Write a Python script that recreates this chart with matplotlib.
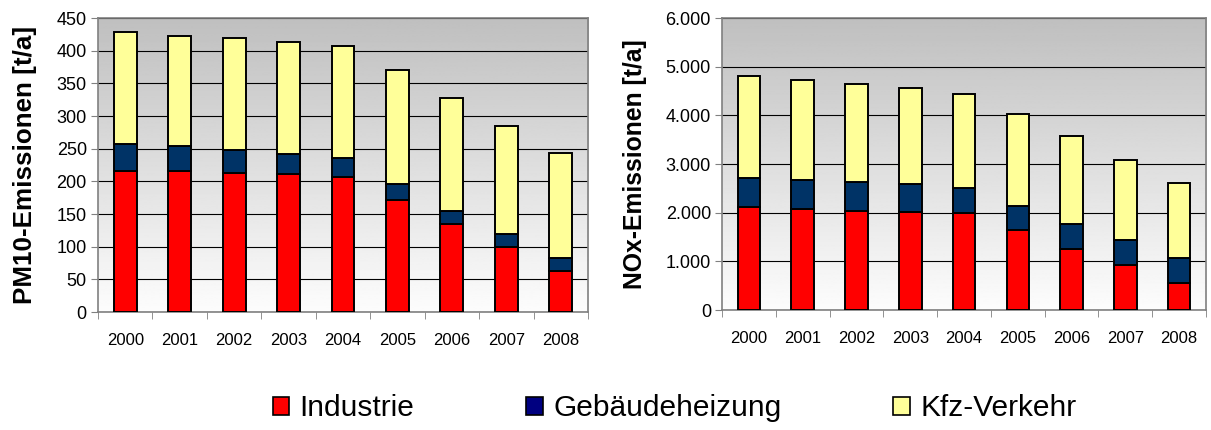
import numpy as np
import matplotlib.pyplot as plt
from matplotlib.ticker import FuncFormatter
from matplotlib.patches import Patch

plt.rcParams['font.family'] = ['Liberation Sans', 'DejaVu Sans']

jahre = ['2000', '2001', '2002', '2003', '2004', '2005', '2006', '2007', '2008']
quellen = ['Industrie', 'Gebäudeheizung', 'Kfz-Verkehr']
farben = ['#ff0000', '#003366', '#ffff99']
legende_farben = ['#ff0000', '#000080', '#ffff99']

# PM10 in t/a
pm10_industrie = [216, 216, 213, 211, 207, 171, 134, 100, 63]
pm10_heizung = [41, 38, 35, 31, 28, 25, 21, 19, 19]
pm10_verkehr = [171, 169, 171, 171, 172, 174, 172, 165, 162]

# NOx in t/a
nox_industrie = [2120, 2075, 2040, 2005, 2000, 1635, 1260, 930, 560]
nox_heizung = [585, 590, 590, 590, 500, 495, 500, 505, 500]
nox_verkehr = [2095, 2055, 2015, 1960, 1930, 1895, 1810, 1640, 1560]


def tausender(v, pos):
    return '{:,.0f}'.format(v).replace(',', '.')


def balken(ax, reihen, ymax, ystep, ylabel, lsize, fmt=None):
    x = np.arange(len(jahre))
    # grauer Verlauf im Hintergrund
    grad = np.linspace(0.99, 0.75, 256).reshape(-1, 1)
    ax.imshow(grad, cmap='gray', vmin=0, vmax=1, aspect='auto',
              extent=[-0.5, len(jahre) - 0.5, 0, ymax], origin='lower', zorder=0)
    unten = np.zeros(len(jahre))
    for werte, farbe in zip(reihen, farben):
        ax.bar(x, werte, width=0.42, bottom=unten, color=farbe,
               edgecolor='black', linewidth=1.4, zorder=3)
        unten = unten + np.array(werte)
    ax.set_xlim(-0.5, len(jahre) - 0.5)
    ax.set_ylim(0, ymax)
    ax.set_yticks(np.arange(0, ymax + 1, ystep))
    ax.yaxis.grid(True, color='black', linewidth=0.8, zorder=1)
    ax.set_axisbelow(True)
    ax.set_xticks(x)
    ax.set_xticklabels(jahre, fontsize=12)
    ax.set_xticks(np.arange(-0.5, len(jahre)), minor=True)
    ax.tick_params(axis='x', which='major', length=0, pad=15)
    ax.tick_params(axis='x', which='minor', length=5, color='#808080')
    ax.tick_params(axis='y', length=5, color='#808080', labelsize=13, pad=3)
    if fmt:
        ax.yaxis.set_major_formatter(FuncFormatter(fmt))
    for s in ax.spines.values():
        s.set_color('#808080')
        s.set_linewidth(1.2)
    ax.set_ylabel(ylabel, fontsize=lsize, fontweight='bold')


fig = plt.figure(figsize=(12.11, 4.30), dpi=100)
ax1 = fig.add_axes([0.0809, 0.2744, 0.4047, 0.6837])
ax2 = fig.add_axes([0.5962, 0.279, 0.3997, 0.679])

balken(ax1, [pm10_industrie, pm10_heizung, pm10_verkehr], 450, 50,
       'PM10-Emissionen [t/a]', 18.7)
balken(ax2, [nox_industrie, nox_heizung, nox_verkehr], 6000, 1000,
       'NOx-Emissionen [t/a]', 17.8, tausender)
ax1.yaxis.set_label_coords(-0.124, 0.5)
ax2.yaxis.set_label_coords(-0.155, 0.5)

griffe = [Patch(facecolor=f, edgecolor='black', linewidth=1.2) for f in legende_farben]
fig.legend(griffe, quellen, loc='center', bbox_to_anchor=(0.557, 0.05),
           ncol=3, frameon=False, fontsize=21.5, handlelength=0.55,
           handleheight=0.55, handletextpad=0.35, columnspacing=3.75)

fig.savefig('out.png', dpi=100)
